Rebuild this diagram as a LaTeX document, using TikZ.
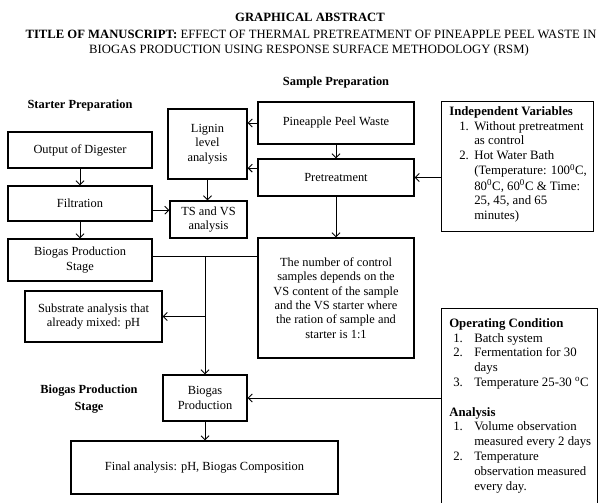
\documentclass[tikz,border=0pt]{standalone}
\usepackage{fontspec}
\setmainfont{Liberation Serif}
\usetikzlibrary{arrows.meta,positioning,calc}

\newcommand{\boxfont}{\fontsize{9.3}{10.8}\selectfont}
\newcommand{\listfont}{\fontsize{9.6}{11.1}\selectfont}
\newcommand{\headfont}{\fontsize{9.5}{11}\selectfont}
\tikzset{
  box/.style={draw, line width=0.9pt, align=center, inner sep=2pt, font=\boxfont},
  arr/.style={-{Straight Barb[length=3pt,width=6pt]}, line width=0.7pt},
  link/.style={line width=0.7pt},
  heading/.style={font=\boxfont\bfseries, align=center},
  headline/.style={font=\headfont},
}

\begin{document}
\begin{tikzpicture}[x=0.75pt, y=-0.75pt]
    \clip (0,0) rectangle (598,502);

    % Title
    \node[headline, font=\headfont\bfseries] (abstract) at (310,17) {GRAPHICAL ABSTRACT};
    \node[headline] (manuscript) at (311,34) {\textbf{TITLE OF MANUSCRIPT:} EFFECT OF THERMAL PRETREATMENT OF PINEAPPLE PEEL WASTE IN};
    \node[headline] (manuscript2) at (309,50) {BIOGAS PRODUCTION USING RESPONSE SURFACE METHODOLOGY (RSM)};

    % Sample Preparation
    \node[heading] (samplehead) at (336,83) {Sample Preparation};
    \node[box, minimum width=117pt, minimum height=31.5pt] (waste) at (336,123) {Pineapple Peel Waste};
    \node[box, minimum width=117pt, minimum height=27.75pt] (pretreat) at (336,177.5) {Pretreatment};
    \node[box, minimum width=59.25pt, minimum height=52.5pt] (lignin) at (207.5,144) {Lignin\\level\\analysis};
    \node[box, minimum width=57.75pt, minimum height=27.75pt] (tsvs) at (208.5,219.5) {TS and VS\\analysis};
    \node[box, minimum width=117pt, minimum height=90pt] (ratio) at (336,298) {The number of control\\samples depends on the\\VS content of the sample\\and the VS starter where\\the ration of sample and\\starter is 1:1};

    % Independent Variables
    \node[box, anchor=north west, minimum width=114pt, minimum height=97.5pt] (indep) at (441,101) {};
    \node[anchor=north west, inner sep=0pt, align=left, font=\listfont] (indeptext) at (449,104.6)
      {\begin{tabular}{@{\hspace{7.5pt}}p{11.25pt}@{}l@{}}
        \multicolumn{2}{@{}l@{}}{\textbf{Independent Variables}}\\
        1. & Without pretreatment\\
           & as control\\
        2. & Hot Water Bath\\
           & (Temperature: 100\textsuperscript{0}C,\\
           & 80\textsuperscript{0}C, 60\textsuperscript{0}C \& Time:\\
           & 25, 45, and 65\\
           & minutes)
      \end{tabular}};

    % Starter Preparation
    \node[heading] (starterhead) at (80,106) {Starter Preparation};
    \node[box, minimum width=108pt, minimum height=27pt] (digester) at (80,150) {Output of Digester};
    \node[box, minimum width=108pt, minimum height=26.25pt] (filtration) at (80,203.5) {Filtration};
    \node[box, minimum width=108pt, minimum height=31.5pt] (bps) at (80,260) {Biogas Production\\Stage};
    \node[box, minimum width=102.75pt, minimum height=38.25pt] (substrate) at (93.5,316.5) {Substrate analysis that\\already mixed: pH};

    % Biogas Production Stage
    \node[heading, font=\fontsize{9.3}{13}\selectfont\bfseries] (stagehead) at (89,399) {Biogas Production\\Stage};
    \node[box, minimum width=63pt, minimum height=34.5pt] (biogas) at (205,398) {Biogas\\Production};
    \node[box, minimum width=200.25pt, minimum height=39.75pt] (final) at (204.5,467.5) {Final analysis: pH, Biogas Composition};

    % Operating Condition
    \node[box, anchor=north west, minimum width=117pt, minimum height=165pt] (operating) at (441,308) {};
    \node[anchor=north west, inner sep=0pt, align=left, font=\listfont] (operatingtext) at (449,316.6)
      {\begin{tabular}{@{\hspace{3pt}}p{15.75pt}@{}l@{}}
        \multicolumn{2}{@{}l@{}}{\textbf{Operating Condition}}\\
        1. & Batch system\\
        2. & Fermentation for 30\\
           & days\\
        3. & Temperature 25-30 \textsuperscript{o}C\\
        \multicolumn{2}{@{}l@{}}{}\\
        \multicolumn{2}{@{}l@{}}{\textbf{Analysis}}\\
        1. & Volume observation\\
           & measured every 2 days\\
        2. & Temperature\\
           & observation measured\\
           & every day.
      \end{tabular}};

    % Connectors
    \foreach \from/\to in {digester/filtration, filtration/bps, waste/pretreat, pretreat/ratio, lignin/tsvs, biogas/final}
        \draw[arr] (\from.south) -- (\from.south |- \to.north);
    \draw[arr] (waste.west) -- (waste.west -| lignin.east);
    \draw[arr] ([yshift=7pt]pretreat.west) -- ([yshift=7pt]pretreat.west -| lignin.east);
    \draw[arr] (indep.west |- pretreat.east) -- (pretreat.east);
    \draw[arr] ([yshift=-5pt]filtration.east) -- ([yshift=-5pt]filtration.east -| tsvs.west);
    \draw[link] ([yshift=3pt]bps.east) -- ([yshift=3pt]bps.east -| ratio.west);
    \coordinate (split) at ([yshift=3pt]bps.east -| biogas.north);
    \draw[arr] (split) -- (biogas.north);
    \draw[arr] (split |- substrate.east) -- (substrate.east);
    \draw[arr] (operating.west |- biogas.east) -- (biogas.east);
\end{tikzpicture}
\end{document}
